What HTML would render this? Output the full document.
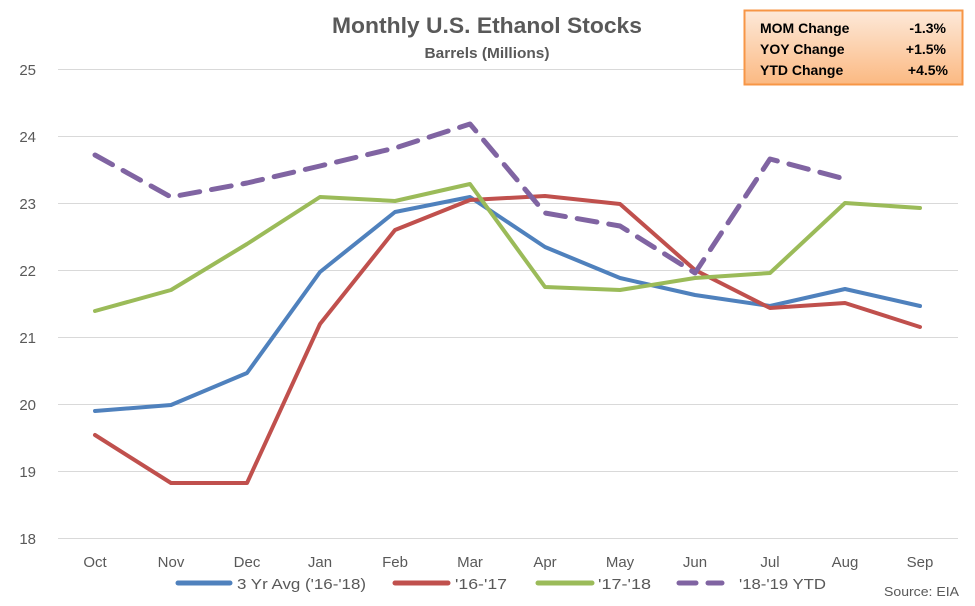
<!DOCTYPE html>
<html><head><meta charset="utf-8"><style>
body{margin:0;background:#fff}
svg text{font-family:"Liberation Sans",sans-serif}
</style></head><body>
<svg width="975" height="601" viewBox="0 0 975 601" xmlns="http://www.w3.org/2000/svg">
<defs><linearGradient id="g" x1="0" y1="0" x2="0" y2="1"><stop offset="0" stop-color="#fde9d9"/><stop offset="1" stop-color="#fbb982"/></linearGradient></defs>
<g stroke="#d9d9d9" stroke-width="1">
<line x1="58" x2="958" y1="69.5" y2="69.5"/><line x1="58" x2="958" y1="136.5" y2="136.5"/><line x1="58" x2="958" y1="203.5" y2="203.5"/><line x1="58" x2="958" y1="270.5" y2="270.5"/><line x1="58" x2="958" y1="337.5" y2="337.5"/><line x1="58" x2="958" y1="404.5" y2="404.5"/><line x1="58" x2="958" y1="471.5" y2="471.5"/><line x1="58" x2="958" y1="538.5" y2="538.5"/>
</g>
<g font-size="15" fill="#595959" text-anchor="end">
<text x="36" y="75">25</text><text x="36" y="142">24</text><text x="36" y="209">23</text><text x="36" y="276">22</text><text x="36" y="343">21</text><text x="36" y="410">20</text><text x="36" y="477">19</text><text x="36" y="544">18</text>
</g>
<g font-size="15" fill="#595959" text-anchor="middle">
<text x="95" y="567">Oct</text><text x="171" y="567">Nov</text><text x="247" y="567">Dec</text><text x="320" y="567">Jan</text><text x="395" y="567">Feb</text><text x="470" y="567">Mar</text><text x="545" y="567">Apr</text><text x="620" y="567">May</text><text x="695" y="567">Jun</text><text x="770" y="567">Jul</text><text x="845" y="567">Aug</text><text x="920" y="567">Sep</text>
</g>
<g fill="none" stroke-width="4" stroke-linejoin="round" stroke-linecap="round">
<polyline stroke="#4f81bd" points="95,411 171,405 247,373 320,272 395,212 470,197 545,247 620,278 695,295 770,306 845,289 920,306"/>
<polyline stroke="#c0504d" points="95,435 171,483 247,483 320,324 395,230 470,200 545,196 620,204 695,270 770,308 845,303 920,327"/>
<polyline stroke="#9bbb59" points="95,311 171,290 247,244 320,197 395,201 470,184 545,287 620,290 695,278 770,273 845,203 920,208"/>
<polyline stroke="#8064a2" stroke-width="5" stroke-dasharray="20,12" points="95,155 171,197 247,183 320,166 395,148 470,124 545,213 620,226 695,273 770,159 845,179"/>
</g>
<text x="487" y="33" text-anchor="middle" font-size="22" font-weight="bold" fill="#595959" textLength="310" lengthAdjust="spacingAndGlyphs">Monthly U.S. Ethanol Stocks</text>
<text x="487" y="58" text-anchor="middle" font-size="15" font-weight="bold" fill="#595959" textLength="125" lengthAdjust="spacingAndGlyphs">Barrels (Millions)</text>
<rect x="744.5" y="10.5" width="218" height="74" fill="url(#g)" stroke="#f79646" stroke-width="2"/>
<g font-size="14" font-weight="bold" fill="#000">
<text x="760" y="33">MOM Change</text><text x="760" y="54">YOY Change</text><text x="760" y="75">YTD Change</text>
<text x="946" y="33" text-anchor="end">-1.3%</text><text x="946" y="54" text-anchor="end">+1.5%</text><text x="948" y="75" text-anchor="end">+4.5%</text>
</g>
<g stroke-width="5" stroke-linecap="round">
<line x1="178" x2="230" y1="583" y2="583" stroke="#4f81bd"/>
<line x1="395" x2="448" y1="583" y2="583" stroke="#c0504d"/>
<line x1="538" x2="592" y1="583" y2="583" stroke="#9bbb59"/>
<line x1="679" x2="696" y1="583" y2="583" stroke="#8064a2"/>
<line x1="708" x2="722" y1="583" y2="583" stroke="#8064a2"/>
</g>
<g font-size="15" fill="#595959">
<text x="237" y="589" textLength="129" lengthAdjust="spacingAndGlyphs">3 Yr Avg ('16-'18)</text>
<text x="455" y="589" textLength="52" lengthAdjust="spacingAndGlyphs">'16-'17</text>
<text x="598" y="589" textLength="53" lengthAdjust="spacingAndGlyphs">'17-'18</text>
<text x="739" y="589" textLength="87" lengthAdjust="spacingAndGlyphs">'18-'19 YTD</text>
<text x="884" y="596" font-size="13" textLength="75" lengthAdjust="spacingAndGlyphs">Source: EIA</text>
</g>
</svg>
</body></html>
